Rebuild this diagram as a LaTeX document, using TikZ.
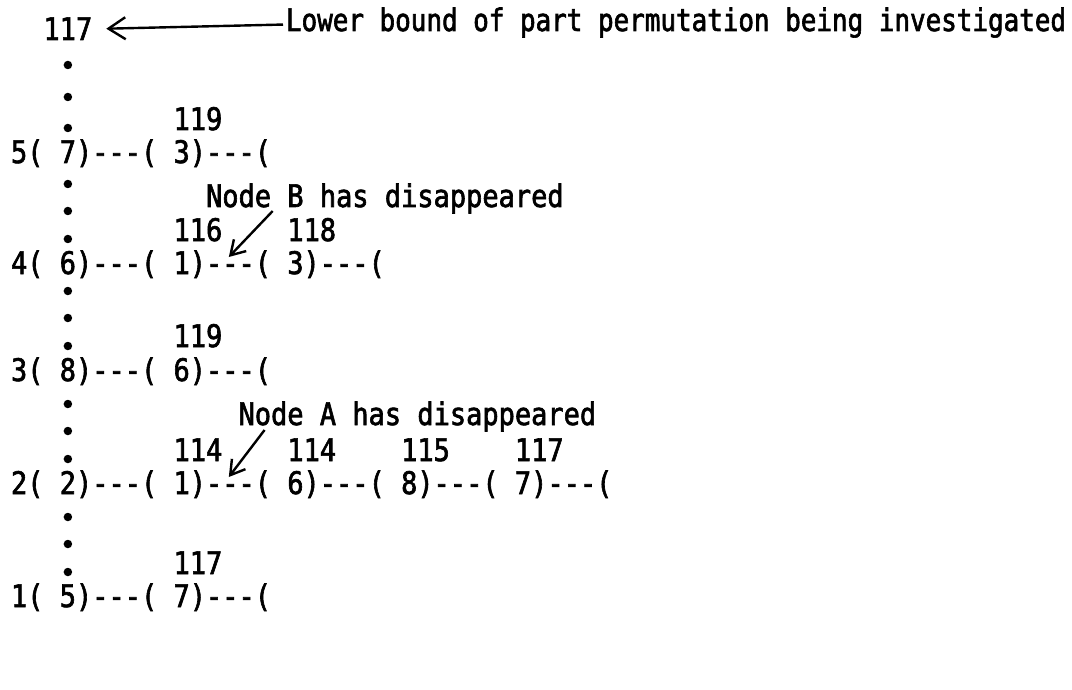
\documentclass[tikz,border=0pt]{standalone}
\usepackage{fontspec}
\setmonofont{DejaVu Sans Mono}[FakeStretch=0.871,FakeBold=2]
\newfontfamily\hdfont{DejaVu Sans Mono}[FakeStretch=0.836,FakeBold=2,WordSpace={1,0,0}]
\usetikzlibrary{arrows.meta,calc}

\def\pc{16.255}
\tikzset{
  tw/.style={inner sep=0pt,outer sep=0pt,anchor=base west,
    font=\ttfamily\fontsize{31}{33}\selectfont},
  hd/.style={tw,font=\hdfont\fontsize{31}{33}\selectfont},
  lead/.style={circle,fill=black,inner sep=0pt,minimum size=8.5pt},
  note/.style={line width=2.4pt,-{Straight Barb[length=14pt,width=17pt,line width=2.4pt]}},
  bignote/.style={note,-{Straight Barb[length=17pt,width=22pt,line width=2.4pt]}},
}

\begin{document}
\begin{tikzpicture}[x=1pt,y=-1pt]
\useasboundingbox (0,0) rectangle (1072,690);

% header line
\node[tw] (top) at ({11+2*\pc},40) {117};
\node[hd] (hdr) at (286,31) {Lower bound of part permutation being investigated};
\draw[bignote] ([xshift=-3pt,yshift=-2pt]hdr.west) -- ([xshift=14pt]top.east);

% levels of the search
\node[tw] (r5) at (11,163) {5( 7)---( 3)---(};
\node[tw] (r4) at (11,274) {4( 6)---( 1)---( 3)---(};
\node[tw] (r3) at (11,381) {3( 8)---( 6)---(};
\node[tw] (r2) at (11,494) {2( 2)---( 1)---( 6)---( 8)---( 7)---(};
\node[tw] (r1) at (11,607) {1( 5)---( 7)---(};

% leader dots between the levels
\foreach \r/\b in {4/274,3/381,2/494,1/607}
  \foreach \k/\d in {1/90,2/63,3/35}
    \node[lead] (d\r\k) at ({11+3.5*\pc},{\b-\d}) {};
\node[lead] (d51) at ({11+3.5*\pc},65) {};
\node[lead] (d52) at ({11+3.5*\pc},97) {};
\node[lead] (d53) at ({11+3.5*\pc},128) {};

% bounds printed over the nodes
\node[tw] (b51) at ({11+10*\pc},130) {119};
\node[tw] (b41) at ({11+10*\pc},241) {116};
\node[tw] (b42) at ({11+17*\pc},241) {118};
\node[tw] (b31) at ({11+10*\pc},347) {119};
\node[tw] (b21) at ({11+10*\pc},461) {114};
\node[tw] (b22) at ({11+17*\pc},461) {114};
\node[tw] (b23) at ({11+24*\pc},461) {115};
\node[tw] (b24) at ({11+31*\pc},461) {117};
\node[tw] (b11) at ({11+10*\pc},574) {117};

% notes on vanished nodes
\node[tw] (nb) at ({11+12*\pc},207) {Node B has disappeared};
\node[tw] (na) at ({11+14*\pc},425) {Node A has disappeared};
\draw[note] ($(nb.base west)+(4.1*\pc,4)$) -- ($(r4.base west)+(13.4*\pc,-17)$);
\draw[note] ($(na.base west)+(1.6*\pc,5)$) -- ($(r2.base west)+(13.4*\pc,-17)$);
\end{tikzpicture}
\end{document}
